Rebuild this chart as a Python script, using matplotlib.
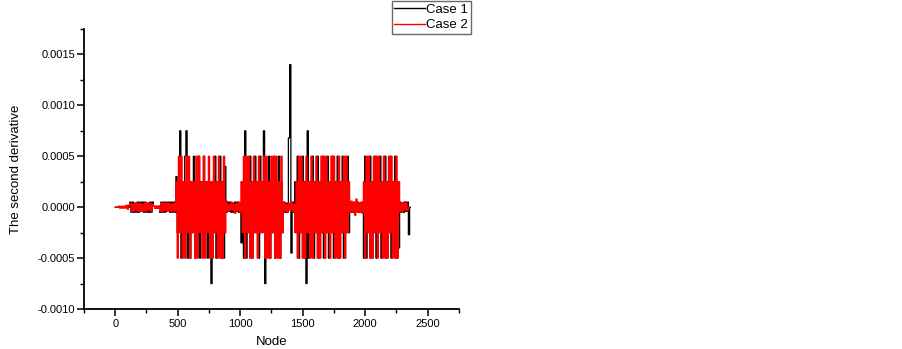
import numpy as np
import matplotlib
matplotlib.use("Agg")
import matplotlib.pyplot as plt
from matplotlib.ticker import MultipleLocator, FormatStrFormatter

plt.rcParams['font.family'] = ['Liberation Sans', 'DejaVu Sans']
plt.rcParams['path.simplify'] = False

# ---- data: second derivative in units of 1e-5, sampled every 10 nodes ----
STEP = 10
UNIT = 1e-5

# Case 1 (black): (start node, values)
case1_seg_start = [0, 120, 310, 360, 490, 890, 1010, 1350, 1440, 1880, 1990, 2280]
case1_seg_vals = [
    [0, 0, 0, 0, 0, 0, 0, 0, 0, 0, 0, 0],
    [5, -5, 5, -5, 4, -5, 5, -5, 5, -4, 5, -5, 5, -5, 4, -5, 5, -5, 5],
    [1, -1, 1, -1, 1],
    [-5, 5, -5, 5, -5, 5, -4, 5, -5, 5, -5, 5, -5],
    [30, -25, 25, 75, -50, 25, -25, 50, 75, -50,
     25, -50, 25, -25, 50, -50, 25, -25, 50, -50,
     25, -25, 50, -25, 25, -50, 25, -25, -75, 25,
     -25, 50, -50, 25, -25, 50, -50, 25, -50, 40],
    [-5, 5, -4, 5, -5, 4, -5, 5, -4, 5, -5, 4],
    [-35, 25, -50, 75, -50, 25, -25, 50, -50, 25,
     -25, 50, -25, 25, -50, 50, -25, 25, 75, -75,
     25, -25, 50, -50, 25, -25, 50, -50, 25, -25,
     50, -50, 25, -25],
    [5, -5, 4, -5, 68, 140, -45, 5, -5],
    [25, -25, 50, -50, 25, -25, 50, -50, 25, -75,
     75, -50, 25, -25, 50, -50, 25, -25, 50, -50,
     25, -25, 50, -50, 25, -25, 50, -50, 25, -25,
     50, -50, 25, -25, 50, -50, 25, -25, 50, -50,
     25, -25, 50, -25],
    [5, -5, 4, -5, 5, -4, 5, -5, 4, -5, 5],
    [-50, 50, -50, 25, -25, 50, -50, 25, -25, 50,
     -50, 25, -25, 50, -50, 25, -25, 50, -50, 25,
     -25, 50, -50, 25, -25, 50, -50, 25, -40],
    [5, -5, 4, -5, 5, -4, 5, -27, 0],
]

# Case 2 (red)
case2_seg_start = [0, 120, 310, 360, 490, 890, 1010, 1350, 1440, 1880, 1990, 2280]
case2_seg_vals = [
    [0, 0, 0, 1, -1, 1, -1, 1, -1, 2, -2, 2],
    [4, -4, 3, -4, 4, -3, 4, -4, 4, -4, 3, -4, 4, -4, 4, -3, 4, -4, 3],
    [1, -1, 1, -1, 1],
    [-4, 4, -4, 4, -3, 4, -4, 4, -4, 3, -4, 4, -4],
    [25, -50, 50, -25, 50, -50, 25, -50, 50, -25,
     50, -50, 25, -25, 25, -50, 50, -50, 50, -25,
     25, -50, 50, -50, 25, -25, 50, -50, 25, -50,
     50, -25, 25, -50, 50, -50, 25, -50, 50, -25],
    [6, -4, 3, -3, 5, -3, 3, -6, 4, -3, 5, -5],
    [25, -25, 50, -50, 50, -25, 50, -50, 25, -50,
     50, -25, 25, -50, 50, -25, 25, -25, 50, -50,
     50, -50, 25, -50, 50, -25, 50, -50, 50, -50,
     25, -50, 50, -25],
    [5, -4, 3, -5, 4, -3, 5, -4, 3],
    [-25, 25, -50, 50, -25, 50, -50, 25, -50, 50,
     -25, 25, -50, 50, -50, 25, -25, 50, -50, 25,
     -50, 50, -25, 50, -50, 50, -25, 25, -50, 50,
     -25, 50, -50, 25, -50, 50, -50, 25, -25, 50,
     -50, 50, -25, 25],
    [-5, 6, -4, 5, -8, 8, -5, 4, -5, 5, -6],
    [25, -50, 50, -25, 50, -50, 25, -50, 50, -25,
     50, -50, 50, -25, 25, -50, 50, -50, 25, -50,
     50, -25, 50, -50, 25, -50, 50, -50, 25],
    [-5, 4, -4, 5, -3, 4, -3, 0],
]

series_labels = ["Case 1", "Case 2"]
series_colors = ["black", "red"]
x_ticks = [0, 500, 1000, 1500, 2000, 2500]
y_ticks = [-0.0010, -0.0005, 0.0000, 0.0005, 0.0010, 0.0015]


def build(starts, vals):
    xs, ys = [], []
    for s, v in zip(starts, vals):
        xs.extend(s + STEP * np.arange(len(v)))
        ys.extend(np.asarray(v) * UNIT)
    return np.array(xs), np.array(ys)


x1, y1 = build(case1_seg_start, case1_seg_vals)
x2, y2 = build(case2_seg_start, case2_seg_vals)

fig = plt.figure(figsize=(9.03, 3.49), dpi=100)
ax = fig.add_axes([84 / 903, 40 / 349, 375 / 903, 280 / 349])

l1, = ax.plot(x1, y1, color=series_colors[0], lw=0.9, drawstyle='steps-mid',
              snap=False, label=series_labels[0])
l2, = ax.plot(x2, y2, color=series_colors[1], lw=0.9, drawstyle='steps-mid',
              snap=False, label=series_labels[1])

ax.set_xlim(-250, 2750)
ax.set_ylim(-0.0010, 0.00175)
ax.set_xticks(x_ticks)
ax.set_yticks(y_ticks)
ax.xaxis.set_minor_locator(MultipleLocator(250))
ax.yaxis.set_minor_locator(MultipleLocator(0.00025))
ax.yaxis.set_major_formatter(FormatStrFormatter('%.4f'))
ax.spines['top'].set_visible(False)
ax.spines['right'].set_visible(False)
for sp in ('left', 'bottom'):
    ax.spines[sp].set_linewidth(1.3)
ax.tick_params(which='major', direction='out', length=5, width=1.1,
               labelsize=8.0, pad=2.5)
ax.tick_params(axis='y', which='major', pad=1.5)
ax.tick_params(which='minor', direction='out', length=3, width=1.0)
ax.set_xlabel('Node', fontsize=9.5, labelpad=5)
ax.set_ylabel('The second derivative', fontsize=9.5, labelpad=11)

leg = fig.legend(handles=[l1, l2], loc='upper right',
                 bbox_to_anchor=(471 / 903, 1 - 1 / 349),
                 fontsize=9.5, frameon=True, fancybox=False,
                 borderpad=0.2, labelspacing=0.25, handlelength=2.3,
                 handletextpad=0.15, borderaxespad=0.0)
leg.get_frame().set_edgecolor('#444444')
leg.get_frame().set_linewidth(1.0)
for h in leg.get_lines():
    h.set_linewidth(1.0)

fig.savefig('out.png', dpi=100)
